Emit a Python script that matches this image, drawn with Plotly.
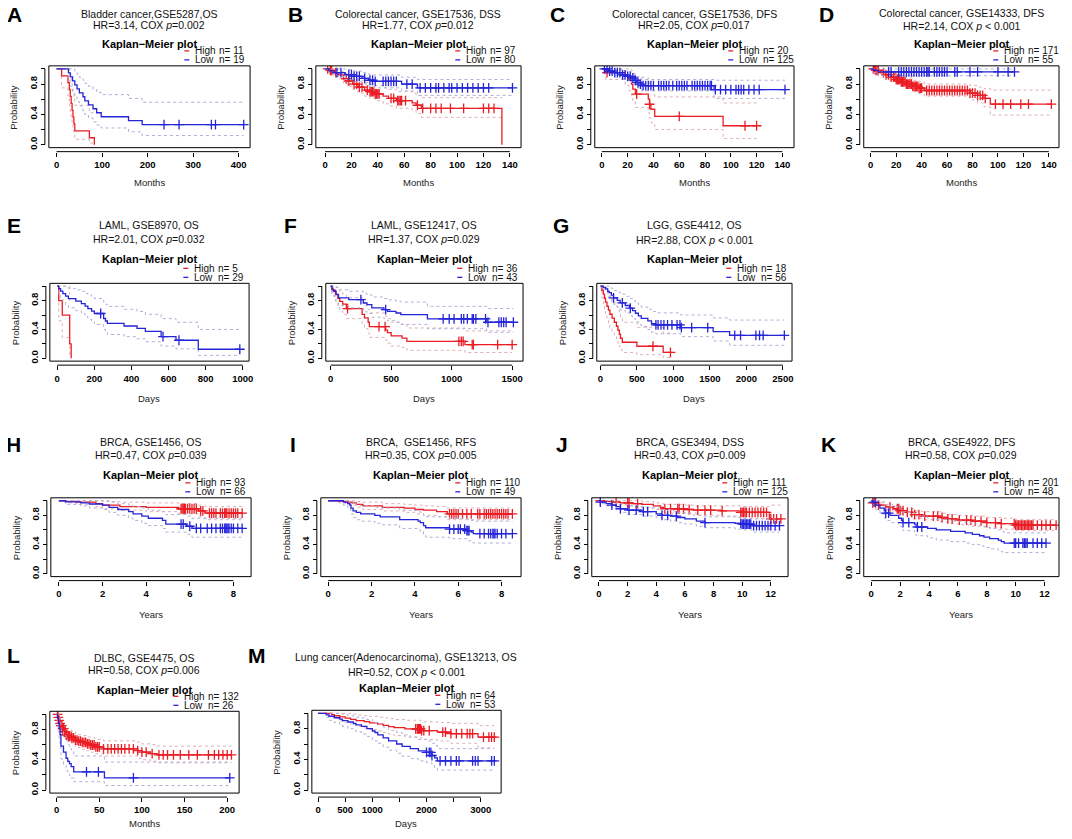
import numpy as np
import plotly.graph_objects as go

# ---------------- data ----------------
A_HIGH_T = [0, 11, 25, 28, 30, 32, 34, 36, 38, 40, 72, 83]
A_HIGH_S = [1.0, .909, .818, .727, .636, .545, .455, .364, .273, .182, .091, 0.0]
A_HIGH_UP = [1.0, 1.0, 1.0, .98, .93, .86, .79, .71, .62, .52, .42, .42]
A_HIGH_LO = [1.0, .75, .62, .52, .42, .33, .26, .19, .13, .07, .02, .02]
A_HIGH_C = []
A_LOW_T = [0, 26, 30, 35, 40, 45, 50, 58, 62, 70, 80, 88, 98, 158, 188]
A_LOW_S = [1.0, .947, .895, .842, .789, .737, .684, .632, .579, .526, .474, .421, .368, .316, .263]
A_LOW_UP = [1.0, 1.0, 1.0, 1.0, .97, .93, .89, .85, .81, .77, .73, .69, .66, .61, .56]
A_LOW_LO = [1.0, .85, .77, .70, .63, .57, .51, .45, .40, .35, .30, .26, .22, .17, .12]
A_LOW_C = [236, 269, 340, 349, 411]

B_HIGH_T = [0, 3, 6, 10, 14, 17, 21, 25, 30, 34, 38, 44, 48, 54, 66, 69, 73, 134]
B_HIGH_S = [1.0, .98, .95, .92, .87, .84, .80, .76, .72, .70, .67, .64, .61, .58, .55, .52, .48, 0.0]
B_HIGH_UP = [1.0, 1.0, .99, .97, .94, .91, .88, .85, .82, .80, .78, .75, .73, .70, .68, .65, .62, .62]
B_HIGH_LO = [1.0, .95, .91, .87, .81, .77, .73, .68, .64, .61, .58, .54, .51, .48, .45, .41, .36, .36]
B_HIGH_C = [2, 4, 5, 8, 16, 18, 22, 24, 26, 28, 32, 34, 35, 36, 37, 38, 39, 40, 41, 50, 52, 55, 56,
            57, 58, 61, 70, 74, 80, 84, 88, 95, 105, 120, 124, 128]
B_LOW_T = [0, 3, 7, 15, 22, 28, 33, 37, 58, 70]
B_LOW_S = [1.0, .975, .95, .925, .90, .875, .85, .835, .80, .75]
B_LOW_UP = [1.0, 1.0, 1.0, .99, .97, .95, .93, .92, .89, .86]
B_LOW_LO = [1.0, .94, .90, .86, .83, .80, .77, .75, .71, .65]
B_LOW_C = [9, 12, 18, 20, 22, 24, 26, 30, 34, 36, 38, 44, 46, 48, 50, 52, 54, 62, 66, 72, 76, 80,
           84, 86, 90, 94, 96, 100, 104, 108, 112, 116, 120, 124, 142]

C_HIGH_T = [0, 3, 18, 21, 23, 24, 26, 36, 37, 38, 41, 94]
C_HIGH_S = [1.0, .95, .90, .85, .80, .733, .667, .60, .533, .467, .373, .249]
C_HIGH_UP = [1.0, 1.0, 1.0, 1.0, .98, .94, .89, .84, .78, .72, .63, .55]
C_HIGH_LO = [1.0, .86, .78, .71, .65, .57, .49, .42, .35, .29, .20, .08]
C_HIGH_C = [4, 27, 37, 60, 111, 120]
C_LOW_T = [0, 5, 10, 16, 20, 23, 25, 27, 30, 31, 87]
C_LOW_S = [1.0, .97, .95, .92, .90, .88, .85, .82, .80, .78, .725]
C_LOW_UP = [1.0, 1.0, .99, .97, .96, .94, .92, .90, .88, .86, .85]
C_LOW_LO = [1.0, .94, .91, .87, .85, .82, .79, .75, .73, .71, .61]
C_LOW_C = [2, 4, 6, 8, 10, 12, 14, 16, 18, 20, 22, 24, 26, 28, 30, 32, 34, 36, 38, 40, 44, 46, 48,
           50, 52, 55, 58, 60, 62, 64, 66, 70, 72, 74, 76, 78, 80, 82, 84, 85, 88, 92, 96, 100, 104,
           106, 108, 110, 114, 118, 122, 142]

D_HIGH_T = [0, 4, 8, 12, 16, 20, 24, 28, 33, 38, 42, 78, 84, 89, 94]
D_HIGH_S = [1.0, .98, .95, .92, .89, .86, .83, .80, .77, .745, .715, .68, .65, .61, .535]
D_HIGH_UP = [1.0, 1.0, .99, .97, .95, .93, .90, .88, .85, .83, .80, .78, .76, .74, .72]
D_HIGH_LO = [1.0, .96, .92, .88, .84, .81, .77, .74, .70, .67, .64, .59, .55, .50, .39]
D_HIGH_C = [2, 3, 4, 5, 6, 10, 12, 14, 16, 18, 19, 20, 21, 22, 23, 24, 25, 26, 27, 28, 29, 30, 31,
            32, 33, 34, 35, 36, 37, 38, 39, 40, 44, 46, 48, 50, 52, 54, 56, 58, 60, 62, 64, 66, 68,
            70, 72, 74, 76, 78, 80, 82, 84, 86, 88, 90, 98, 104, 110, 118, 124, 142]
D_LOW_T = [0, 2, 6]
D_LOW_S = [1.0, .98, .96]
D_LOW_UP = [1.0, 1.0, 1.0]
D_LOW_LO = [1.0, .95, .91]
D_LOW_C = [14, 16, 22, 24, 26, 28, 30, 32, 34, 36, 38, 40, 42, 44, 45, 46, 50, 52, 54, 56, 58, 60,
           66, 68, 78, 84, 100, 108, 113]

E_HIGH_T = [0, 8, 27, 67, 75]
E_HIGH_S = [1.0, .8, .6, .2, 0.0]
E_HIGH_UP = [1.0, 1.0, 1.0, .80, .80]
E_HIGH_LO = [1.0, .52, .29, .04, .04]
E_HIGH_C = []
E_LOW_T = [0, 8, 18, 30, 45, 60, 100, 130, 150, 165, 185, 200, 250, 260, 270, 360, 430, 475, 560, 640, 760]
E_LOW_S = [1.0, .966, .931, .897, .862, .828, .793, .759, .724, .69, .655, .621, .552, .517, .483,
           .448, .414, .372, .30, .25, .125]
E_LOW_UP = [1.0, 1.0, 1.0, 1.0, .99, .97, .95, .93, .90, .88, .86, .83, .78, .75, .72, .68, .65,
            .61, .55, .50, .40]
E_LOW_LO = [1.0, .90, .84, .79, .74, .70, .66, .62, .58, .54, .51, .47, .40, .36, .33, .30, .27,
            .23, .17, .13, .04]
E_LOW_C = [234, 570, 656, 984]

F_HIGH_T = [0, 10, 20, 40, 60, 75, 100, 130, 260, 280, 310, 320, 455, 470, 500, 590, 630, 1110]
F_HIGH_S = [1.0, .972, .944, .889, .833, .79, .75, .69, .61, .56, .50, .44, .39, .355, .31, .28,
            .235, .19]
F_HIGH_UP = [1.0, 1.0, 1.0, .99, .96, .92, .89, .84, .78, .73, .68, .63, .58, .55, .50, .47, .42, .38]
F_HIGH_LO = [1.0, .92, .87, .79, .72, .66, .61, .55, .46, .41, .35, .29, .25, .21, .17, .15, .11, .08]
F_HIGH_C = [140, 400, 450, 1060, 1080, 1095, 1170, 1180, 1380, 1500]
F_LOW_T = [0, 10, 25, 45, 65, 150, 270, 300, 340, 440, 470, 540, 580, 800, 1290]
F_LOW_S = [1.0, .953, .93, .884, .837, .814, .767, .744, .698, .674, .651, .628, .605, .547, .50]
F_LOW_UP = [1.0, 1.0, 1.0, .98, .95, .93, .90, .88, .85, .83, .81, .79, .78, .72, .69]
F_LOW_LO = [1.0, .89, .86, .79, .73, .70, .65, .62, .57, .55, .52, .50, .47, .41, .36]
F_LOW_C = [250, 455, 930, 980, 1020, 1080, 1100, 1130, 1170, 1180, 1200, 1280, 1300, 1390, 1410,
           1430, 1450, 1510]

G_HIGH_T = [0, 20, 40, 55, 70, 90, 110, 130, 160, 190, 220, 240, 260, 275, 300, 500, 860]
G_HIGH_S = [1.0, .944, .889, .833, .778, .722, .667, .611, .556, .50, .444, .389, .333, .278,
            .222, .167, .083]
G_HIGH_UP = [1.0, 1.0, 1.0, 1.0, .98, .94, .90, .86, .82, .77, .72, .67, .62, .56, .50, .43, .35]
G_HIGH_LO = [1.0, .84, .75, .67, .60, .53, .47, .41, .36, .30, .25, .20, .16, .12, .08, .05, .01]
G_HIGH_C = [720, 960]
G_LOW_T = [0, 40, 70, 100, 120, 150, 180, 230, 270, 340, 400, 440, 480, 520, 560, 650, 700, 760,
           1100, 1545, 1770]
G_LOW_S = [1.0, .982, .964, .929, .911, .875, .839, .804, .768, .732, .696, .661, .625, .589,
           .554, .518, .482, .464, .424, .371, .318]
G_LOW_UP = [1.0, 1.0, 1.0, 1.0, .99, .97, .94, .92, .89, .86, .83, .80, .77, .74, .71, .68, .65,
            .63, .60, .56, .53]
G_LOW_LO = [1.0, .95, .92, .86, .84, .79, .75, .71, .67, .63, .59, .55, .51, .47, .44, .40, .36,
            .34, .30, .24, .18]
G_LOW_C = [180, 300, 410, 760, 790, 830, 870, 920, 980, 1050, 1090, 1110, 1250, 1470, 1840, 1920,
           2130, 2180, 2230, 2520]

H_HIGH_T = [0, 0.3, 0.8, 1.7, 2.0, 2.8, 4.0, 5.5, 6.4, 6.7]
H_HIGH_S = [1.0, .99, .98, .96, .94, .92, .91, .89, .86, .83]
H_HIGH_UP = [1.0, 1.0, 1.0, 1.0, .99, .98, .97, .96, .94, .92]
H_HIGH_LO = [1.0, .97, .95, .92, .89, .87, .85, .82, .78, .74]
H_HIGH_C = [5.6, 5.65, 5.7, 5.75, 5.8, 5.9, 6.0, 6.1, 6.2, 6.3, 6.5, 6.6, 6.9, 7.0, 7.1, 7.2, 7.4,
            7.5, 7.6, 7.65, 7.7, 7.8, 7.9, 8.0, 8.1, 8.2, 8.4]
H_LOW_T = [0, 0.3, 1.0, 1.4, 2.0, 2.3, 2.7, 3.2, 3.4, 3.8, 4.1, 4.75, 4.9, 5.85, 6.1]
H_LOW_S = [1.0, .985, .97, .955, .94, .91, .88, .85, .82, .79, .76, .73, .68, .65, .62]
H_LOW_UP = [1.0, 1.0, 1.0, 1.0, 1.0, .98, .96, .94, .92, .90, .87, .85, .81, .79, .76]
H_LOW_LO = [1.0, .95, .93, .90, .88, .84, .80, .76, .73, .69, .66, .62, .57, .54, .50]
H_LOW_C = [5.6, 5.7, 6.0, 6.3, 6.5, 6.8, 7.0, 7.2, 7.4, 7.5, 7.6, 7.65, 7.7, 7.75, 7.8, 7.9, 8.0,
           8.2, 8.4]

I_HIGH_T = [0, 0.5, 0.8, 1.1, 1.3, 1.6, 2.5, 3.5, 4.0, 4.4, 5.0, 5.5]
I_HIGH_S = [1.0, .99, .98, .97, .95, .93, .91, .90, .88, .87, .85, .82]
I_HIGH_UP = [1.0, 1.0, 1.0, 1.0, .99, .98, .96, .95, .94, .93, .92, .90]
I_HIGH_LO = [1.0, .97, .95, .94, .91, .88, .86, .84, .82, .80, .78, .74]
I_HIGH_C = [5.6, 5.7, 5.8, 5.9, 6.0, 6.2, 6.4, 6.6, 6.9, 7.0, 7.2, 7.3, 7.4, 7.5, 7.6, 7.7, 7.8,
            7.9, 8.0, 8.1, 8.2, 8.3, 8.5]
I_LOW_T = [0, 0.7, 0.9, 1.0, 1.05, 1.15, 1.3, 1.5, 2.15, 2.4, 3.3, 4.15, 4.25, 4.4, 4.5, 5.6,
           6.4, 6.6, 6.7]
I_LOW_S = [1.0, .98, .96, .94, .90, .86, .84, .82, .80, .78, .74, .72, .70, .66, .63, .61, .59,
           .57, .55]
I_LOW_UP = [1.0, 1.0, 1.0, 1.0, .99, .96, .94, .93, .91, .90, .87, .85, .84, .80, .78, .76, .75,
            .73, .72]
I_LOW_LO = [1.0, .94, .91, .88, .82, .77, .74, .72, .69, .67, .62, .60, .58, .53, .50, .48, .45,
            .43, .42]
I_LOW_C = [5.6, 5.8, 6.0, 6.1, 6.3, 6.4, 6.45, 6.5, 7.0, 7.2, 7.4, 7.5, 7.6, 7.65, 7.7, 7.8, 8.0,
           8.2, 8.5]

J_HIGH_T = [0, 0.5, 1.0, 1.5, 2.3, 3.0, 3.8, 4.3, 4.5, 6.0, 6.6, 8.5, 9.9, 11.9]
J_HIGH_S = [1.0, .99, .98, .97, .96, .95, .93, .91, .89, .88, .87, .86, .84, .75]
J_HIGH_UP = [1.0, 1.0, 1.0, 1.0, 1.0, .99, .97, .96, .95, .94, .93, .93, .92, .94]
J_HIGH_LO = [1.0, .97, .95, .94, .92, .90, .88, .86, .83, .82, .80, .79, .76, .60]
J_HIGH_C = [0.1, 1.2, 2.0, 2.1, 2.7, 4.6, 5.0, 5.5, 5.6, 5.9, 6.3, 6.9, 7.4, 7.8, 8.6, 9.9, 10.0,
            10.1, 10.2, 10.3, 10.5, 10.7, 10.9, 11.1, 11.3, 11.5, 11.7, 12.0, 12.2, 12.4, 12.7]
J_LOW_T = [0, 0.1, 0.5, 0.9, 1.2, 1.5, 2.0, 3.0, 4.0, 4.4, 5.0, 5.5, 6.0, 6.8, 7.4, 9.5, 10.0, 10.7]
J_LOW_S = [1.0, .98, .96, .94, .92, .89, .87, .85, .82, .80, .79, .77, .75, .72, .70, .69, .68, .66]
J_LOW_UP = [1.0, 1.0, 1.0, .99, .97, .95, .93, .91, .90, .88, .86, .84, .83, .80, .78, .77, .76, .75]
J_LOW_LO = [1.0, .96, .93, .91, .87, .84, .81, .79, .77, .74, .72, .70, .68, .65, .63, .61, .60, .57]
J_LOW_C = [0.1, 0.9, 1.5, 2.1, 2.6, 3.1, 3.4, 4.4, 4.8, 5.4, 7.4, 9.9, 10.0, 10.1, 10.2, 10.3,
           10.4, 10.5, 10.6, 10.8, 11.0, 11.2, 11.4, 11.6, 11.8, 12.0, 12.3, 12.6]

K_HIGH_T = [0, 0.1, 0.5, 1.0, 1.5, 2.0, 2.5, 3.0, 3.5, 4.8, 5.3, 6.0, 7.0, 8.0, 9.0, 10.0]
K_HIGH_S = [1.0, .97, .94, .915, .89, .865, .84, .81, .79, .77, .75, .735, .72, .70, .685, .665]
K_HIGH_UP = [1.0, 1.0, .97, .95, .93, .91, .89, .86, .85, .83, .81, .80, .79, .77, .76, .74]
K_HIGH_LO = [1.0, .94, .91, .88, .85, .82, .79, .76, .74, .71, .69, .67, .65, .63, .61, .59]
K_HIGH_C = [0.1, 0.3, 0.5, 1.3, 1.8, 1.9, 2.0, 2.2, 2.5, 2.8, 3.0, 3.3, 3.7, 4.3, 4.6, 4.9, 5.3,
            5.6, 6.1, 6.6, 6.9, 7.2, 7.6, 8.0, 8.6, 9.0, 9.9, 10.0, 10.1, 10.2, 10.3, 10.4, 10.5,
            10.6, 10.7, 10.8, 10.9, 11.0, 11.1, 11.2, 11.5, 11.8, 12.1, 12.4, 12.8]
K_LOW_T = [0, 0.1, 0.3, 0.6, 0.9, 1.0, 1.3, 1.9, 2.1, 2.2, 3.0, 3.1, 3.9, 4.5, 5.5, 6.5, 7.0, 7.5,
           7.8, 8.2, 8.8, 9.0, 9.2]
K_LOW_S = [1.0, .98, .94, .90, .86, .83, .80, .76, .73, .70, .68, .64, .62, .60, .58, .56, .54,
           .52, .50, .48, .46, .44, .42]
K_LOW_UP = [1.0, 1.0, 1.0, .99, .96, .94, .92, .89, .86, .84, .82, .79, .76, .74, .72, .70, .68,
            .66, .64, .62, .60, .58, .56]
K_LOW_LO = [1.0, .94, .88, .82, .76, .73, .70, .65, .61, .59, .56, .52, .49, .46, .44, .42, .40,
            .38, .36, .34, .32, .30, .29]
K_LOW_C = [0.2, 1.0, 1.2, 2.2, 2.6, 3.2, 3.5, 9.9, 10.0, 10.2, 10.5, 10.6, 10.7, 10.8, 11.2, 11.5,
           11.8, 12.1]

L_HIGH_T = [0, 2, 3, 4, 5, 7, 9, 11, 14, 18, 22, 25, 30, 35, 40, 45, 55, 95, 100, 110, 118]
L_HIGH_S = [1.0, .96, .92, .88, .85, .81, .77, .73, .71, .69, .66, .645, .63, .61, .595, .57,
            .545, .52, .50, .48, .465]
L_HIGH_UP = [1.0, 1.0, .97, .94, .91, .88, .84, .81, .79, .77, .75, .73, .72, .70, .69, .67, .65,
             .63, .61, .60, .58]
L_HIGH_LO = [1.0, .93, .87, .83, .79, .74, .70, .66, .63, .61, .58, .56, .54, .52, .50, .48, .45,
             .42, .40, .38, .36]
L_HIGH_C = [1, 2, 3, 4, 5, 6, 7, 8, 9, 10, 11, 12, 14, 15, 17, 18, 20, 22, 24, 26, 28, 30, 32, 34,
            36, 38, 40, 42, 44, 46, 48, 50, 55, 60, 64, 68, 72, 76, 80, 85, 90, 95, 100, 105, 112,
            120, 125, 130, 137, 145, 155, 165, 178, 185, 190, 195, 200, 205]
L_LOW_T = [0, 1, 2, 3, 4, 5, 8, 11, 13, 15, 17, 20, 56]
L_LOW_S = [1.0, .96, .88, .81, .73, .58, .50, .42, .38, .35, .31, .24, .16]
L_LOW_UP = [1.0, 1.0, 1.0, .97, .91, .79, .72, .65, .60, .57, .53, .45, .37]
L_LOW_LO = [1.0, .89, .77, .67, .58, .41, .33, .26, .22, .19, .16, .11, .06]
L_LOW_C = [35, 49, 90, 203]

M_HIGH_T = [0, 250, 300, 400, 500, 600, 700, 850, 950, 1100, 1200, 1300, 1400, 1600, 1900, 2200,
            2450, 2950]
M_HIGH_S = [1.0, .984, .969, .953, .938, .922, .906, .891, .875, .859, .844, .828, .813, .797,
            .775, .755, .735, .69]
M_HIGH_UP = [1.0, 1.0, 1.0, 1.0, 1.0, .99, .98, .97, .96, .95, .94, .93, .92, .91, .89, .88, .87, .84]
M_HIGH_LO = [1.0, .95, .93, .90, .88, .86, .83, .81, .79, .77, .75, .73, .71, .69, .66, .64, .61, .55]
M_HIGH_C = [1800, 1830, 1850, 1870, 1890, 1910, 1950, 2050, 2300, 2350, 2450, 2550, 2650, 2750,
            2800, 2850, 3050, 3150, 3200, 3250]
M_LOW_T = [0, 150, 200, 300, 400, 450, 550, 650, 700, 800, 900, 1000, 1050, 1100, 1200, 1300,
           1450, 1550, 1700, 1850, 2000, 2100, 2150, 2200]
M_LOW_S = [1.0, .981, .962, .943, .925, .906, .887, .868, .849, .830, .80, .77, .75, .72, .68, .64,
           .60, .57, .54, .51, .49, .45, .42, .38]
M_LOW_UP = [1.0, 1.0, 1.0, 1.0, .99, .98, .97, .96, .95, .94, .92, .90, .88, .86, .82, .78, .75,
            .72, .69, .66, .64, .61, .58, .54]
M_LOW_LO = [1.0, .95, .91, .88, .85, .83, .80, .78, .76, .73, .70, .66, .64, .61, .56, .52, .48,
            .44, .41, .38, .36, .32, .29, .26]
M_LOW_C = [2000, 2050, 2080, 2100, 2250, 2350, 2450, 2550, 2600, 2850, 2900, 2950, 3200, 3250]

# text content
TITLES = {
    "A": ("Bladder cancer,GSE5287,OS", "HR=3.14, COX <i>p</i>=0.002"),
    "B": ("Colorectal cancer, GSE17536, DSS", "HR=1.77, COX <i>p</i>=0.012"),
    "C": ("Colorectal cancer, GSE17536, DFS", "HR=2.05, COX <i>p</i>=0.017"),
    "D": ("Colorectal cancer, GSE14333, DFS", "HR=2.14, COX <i>p</i> &lt; 0.001"),
    "E": ("LAML, GSE8970, OS", "HR=2.01, COX <i>p</i>=0.032"),
    "F": ("LAML, GSE12417, OS", "HR=1.37, COX <i>p</i>=0.029"),
    "G": ("LGG, GSE4412, OS", "HR=2.88, COX <i>p</i> &lt; 0.001"),
    "H": ("BRCA, GSE1456, OS", "HR=0.47, COX <i>p</i>=0.039"),
    "I": ("BRCA,  GSE1456, RFS", "HR=0.35, COX <i>p</i>=0.005"),
    "J": ("BRCA, GSE3494, DSS", "HR=0.43, COX <i>p</i>=0.009"),
    "K": ("BRCA, GSE4922, DFS", "HR=0.58, COX <i>p</i>=0.029"),
    "L": ("DLBC, GSE4475, OS", "HR=0.58, COX <i>p</i>=0.006"),
    "M": ("Lung cancer(Adenocarcinoma), GSE13213, OS", "HR=0.52, COX <i>p</i> &lt; 0.001"),
}
N_HIGH = {"A": 11, "B": 97, "C": 20, "D": 171, "E": 5, "F": 36, "G": 18, "H": 93, "I": 110,
          "J": 111, "K": 201, "L": 132, "M": 64}
N_LOW = {"A": 19, "B": 80, "C": 125, "D": 55, "E": 29, "F": 43, "G": 56, "H": 66, "I": 49,
         "J": 125, "K": 48, "L": 26, "M": 53}
X_UNIT = {"A": "Months", "B": "Months", "C": "Months", "D": "Months", "E": "Days", "F": "Days",
          "G": "Days", "H": "Years", "I": "Years", "J": "Years", "K": "Years", "L": "Months",
          "M": "Days"}
X_TICKS = {
    "A": [0, 100, 200, 300, 400], "B": [0, 20, 40, 60, 80, 100, 120, 140],
    "C": [0, 20, 40, 60, 80, 100, 120, 140], "D": [0, 20, 40, 60, 80, 100, 120, 140],
    "E": [0, 200, 400, 600, 800, 1000], "F": [0, 500, 1000, 1500],
    "G": [0, 500, 1000, 1500, 2000, 2500], "H": [0, 2, 4, 6, 8], "I": [0, 2, 4, 6, 8],
    "J": [0, 2, 4, 6, 8, 10, 12], "K": [0, 2, 4, 6, 8, 10, 12], "L": [0, 50, 100, 150, 200],
    "M": [0, 500, 1000, 1500, 2000, 2500, 3000],
}
X_TICKTEXT = {"M": ["0", "500", "1000", "", "2000", "", "3000"]}
Y_TICKS = [0, 0.2, 0.4, 0.6, 0.8, 1.0]
Y_TICKTEXT = ["0.0", "", "0.4", "", "0.8", ""]

# ---------------- layout (pixel geometry, in window pixels) ----------------
WIN_W, WIN_H = 1072, 839
PAGE_MARGIN = 8          # default body margin of the page
W, H = WIN_W - 2 * PAGE_MARGIN, WIN_H - 2 * PAGE_MARGIN
# box: left, right, top, bottom (px); x range
GEOM = {
    "A": ((49, 251, 66, 148), (-17, 425)),
    "B": ((317, 523, 66, 148), (-7, 148.5)),
    "C": ((597, 797, 66, 148), (-5.5, 149)),
    "D": ((867, 1063, 66, 148), (-5.5, 148)),
    "E": ((50, 250, 284, 362), (-40, 1034)),
    "F": ((327, 525, 284, 362), (-40, 1590)),
    "G": ((599, 795, 284, 362), (-50, 2625)),
    "H": ((51, 252, 499, 578), (-0.37, 8.81)),
    "I": ((322, 523, 499, 578), (-0.34, 8.9)),
    "J": ((594, 791, 499, 578), (-0.5, 13.2)),
    "K": ((867, 1063, 499, 578), (-0.52, 13.0)),
    "L": ((50, 240, 713, 795), (-8, 214)),
    "M": ((313, 503, 712, 795), (-115, 3376)),
}
# row text positions: letter y, title1 y, title2 y, km-title y, x-title y
ROWTEXT = {
    "A": (15, 14, 25, 44, 183), "B": (15, 14, 25, 44, 183), "C": (15, 14, 25, 44, 183),
    "D": (15, 13, 26, 44, 183),
    "E": (226, 226, 240, 260, 399), "F": (226, 226, 240, 260, 399), "G": (226, 226, 241, 260, 399),
    "H": (446, 443, 456, 476, 616), "I": (446, 443, 456, 476, 616), "J": (446, 443, 456, 476, 616),
    "K": (446, 443, 456, 476, 616),
    "L": (657, 660, 672, 692, 825), "M": (657, 659, 674, 690, 825),
}
LETTER_X = {"A": 15, "B": 297, "C": 560, "D": 830, "E": 14, "F": 292, "G": 563, "H": 14,
            "I": 294, "J": 564, "K": 832, "L": 14, "M": 258}

RED = "#EA1C24"
BLUE = "#2424D8"
RED_CI = "#DDB0B6"
BLUE_CI = "#B0B0D6"
FONT = "Liberation Sans, Arial, sans-serif"


def fx(x):
    return min(max((x - PAGE_MARGIN) / W, 0.0), 1.0)


def fy(y):
    return min(max(1 - (y - PAGE_MARGIN) / H, 0.0), 1.0)


def step_at(t, s, q):
    t = np.asarray(t, float)
    s = np.asarray(s, float)
    q = np.asarray(q, float)
    idx = np.searchsorted(t, q, side="right") - 1
    return s[np.clip(idx, 0, len(s) - 1)]


def note(text, x, y, size, xanchor="center", angle=0, color="#111"):
    return dict(text=text, x=fx(x), y=fy(y), xref="paper", yref="paper", xanchor=xanchor,
                yanchor="middle", textangle=angle, showarrow=False,
                font=dict(family=FONT, size=size, color=color))


fig = go.Figure()
annotations = []
shapes = []
layout_axes = {}

for i, k in enumerate("ABCDEFGHIJKLM"):
    n = i + 1
    xa = "x" if n == 1 else f"x{n}"
    ya = "y" if n == 1 else f"y{n}"
    xkey = "xaxis" if n == 1 else f"xaxis{n}"
    ykey = "yaxis" if n == 1 else f"yaxis{n}"
    (L, R, T, B), xr = GEOM[k]

    for g, col, cicol in (("HIGH", RED, RED_CI), ("LOW", BLUE, BLUE_CI)):
        t = list(globals()[f"{k}_{g}_T"])
        s = list(globals()[f"{k}_{g}_S"])
        up = list(globals()[f"{k}_{g}_UP"])
        lo = list(globals()[f"{k}_{g}_LO"])
        c = list(globals()[f"{k}_{g}_C"])
        tend = max(t + c)
        if tend > t[-1]:
            t2, s2, up2, lo2 = t + [tend], s + [s[-1]], up + [up[-1]], lo + [lo[-1]]
        else:
            t2, s2, up2, lo2 = t, s, up, lo
        for ci in (up2, lo2):
            fig.add_trace(go.Scatter(x=t2, y=ci, mode="lines",
                                     line=dict(color=cicol, width=1, dash="dot", shape="hv"),
                                     xaxis=xa, yaxis=ya, showlegend=False, hoverinfo="skip"))
        fig.add_trace(go.Scatter(x=t2, y=s2, mode="lines", line=dict(color=col, width=1.3, shape="hv"),
                                 xaxis=xa, yaxis=ya, showlegend=False))
        if c:
            fig.add_trace(go.Scatter(x=c, y=step_at(t, s, c), mode="markers",
                                     marker=dict(symbol="cross-thin", size=7,
                                                 line=dict(width=1.3, color=col), color=col),
                                     xaxis=xa, yaxis=ya, showlegend=False))

    ticks = X_TICKS[k]
    tickfont = dict(family=FONT, size=9.5, color="black", weight="bold")
    layout_axes[xkey] = dict(
        domain=[fx(L), fx(R)], range=list(xr), anchor="free", position=fy(B + 4),
        tickmode="array", tickvals=ticks, ticktext=X_TICKTEXT.get(k, [str(v) for v in ticks]),
        ticks="outside", ticklen=4, tickwidth=1, tickcolor="black", showline=False, showgrid=False,
        zeroline=False, tickfont=tickfont, fixedrange=True,
    )
    layout_axes[ykey] = dict(
        domain=[fy(B), fy(T)], range=[-0.04, 1.04], anchor="free", position=fx(L - 4),
        tickmode="array", tickvals=Y_TICKS, ticktext=Y_TICKTEXT, tickangle=-90,
        ticks="outside", ticklen=4, tickwidth=1, tickcolor="black", showline=False, showgrid=False,
        zeroline=False, tickfont=tickfont, fixedrange=True,
    )
    shapes.append(dict(type="rect", xref="paper", yref="paper", x0=fx(L), x1=fx(R), y0=fy(B), y1=fy(T),
                       line=dict(color="black", width=1)))
    shapes.append(dict(type="line", xref=xa, yref="paper", x0=ticks[0], x1=ticks[-1], y0=fy(B + 4),
                       y1=fy(B + 4), line=dict(color="black", width=1)))
    shapes.append(dict(type="line", xref="paper", yref=ya, x0=fx(L - 4), x1=fx(L - 4), y0=0, y1=1,
                       line=dict(color="black", width=1)))

    ly, t1y, t2y, kmy, xty = ROWTEXT[k]
    cx = (L + R) / 2
    annotations.append(note(f"<b>{k}</b>", LETTER_X[k], ly, 21, color="black"))
    t1, t2 = TITLES[k]
    annotations.append(note(t1, cx, t1y, 10.5))
    annotations.append(note(t2, cx, t2y, 10.5))
    annotations.append(note("<b>Kaplan\u2212Meier plot</b>", cx, kmy, 11, color="black"))
    for row, (lab, col, nn) in enumerate([("High", RED, N_HIGH[k]), ("Low", BLUE, N_LOW[k])]):
        yy = T - 15 + 9 * row
        shapes.append(dict(type="line", xref="paper", yref="paper", x0=fx(R - 66), x1=fx(R - 61),
                           y0=fy(yy), y1=fy(yy), line=dict(color=col, width=1.3)))
        annotations.append(note(lab, R - 57, yy, 10, xanchor="left"))
        annotations.append(note(f"n= {nn}", R - 33, yy, 10, xanchor="left"))
    annotations.append(note(X_UNIT[k], cx, xty, 9.5, color="#222"))
    annotations.append(note("Probability", L - 35, (T + B) / 2, 9.5, angle=-90, color="#222"))

fig.update_layout(
    width=W, height=H, margin=dict(l=0, r=0, t=0, b=0), paper_bgcolor="white", plot_bgcolor="white",
    showlegend=False, annotations=annotations, shapes=shapes, **layout_axes,
)
fig.write_html("out.html")
